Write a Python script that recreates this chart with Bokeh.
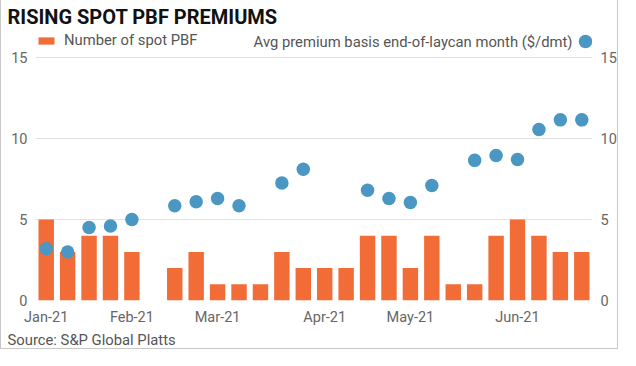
import math
from bokeh.plotting import figure
from bokeh.models import (ColumnDataSource, LinearAxis, FixedTicker, Legend, LegendItem,
                          Label, Range1d, Title)
from bokeh.embed import file_html
from bokeh.resources import INLINE

# ---- data ----
weeks = list(range(26))  # weekly slots, starting w/c 4-Jan-21
spot_count = [5, 3, 4, 4, 3, 0, 2, 3, 1, 1, 1, 3, 2, 2, 2, 4, 4, 2, 4, 1, 1, 4, 5, 4, 3, 3]
nan = float("nan")
avg_premium = [3.2, 3.0, 4.5, 4.6, 5.0, nan, 5.85, 6.1, 6.3, 5.85, nan, 7.25, 8.1, nan, nan,
               6.8, 6.3, 6.05, 7.1, nan, 8.65, 8.95, 8.7, 10.55, 11.15, 11.15]
month_ticks = [0, 4, 8, 13, 17, 22]
month_labels = ["Jan-21", "Feb-21", "Mar-21", "Apr-21", "May-21", "Jun-21"]
y_ticks = [0, 5, 10, 15]

FONT = "Roboto"
TXT = "14.8px"
TICK = "14.5px"
W, H = 618, 349
ML, MR, MT, MB = 34, 27, 28, 49
FRAME_H = H - MT - MB
Y15_PX = 29  # pixels between frame top and the 15 gridline (room for legend row)
y_end = 15 * FRAME_H / (FRAME_H - Y15_PX)

src = ColumnDataSource(dict(week=weeks, count=spot_count, prem=avg_premium))

border = "1px solid #c8c8c8"
p = figure(width=W, height=H, output_backend="svg", toolbar_location=None,
           x_range=Range1d(-0.5, 25.5), y_range=Range1d(0, y_end),
           min_border_left=ML, min_border_right=MR, min_border_top=MT, min_border_bottom=MB,
           y_axis_location=None,
           styles={"border-left": border, "border-right": border, "border-bottom": border})
p.outline_line_color = None

bars = p.vbar(x="week", top="count", width=0.72, source=src,
              fill_color="#F26C38", line_color=None)
dots = p.scatter(x="week", y="prem", source=src, size=13.5,
                 fill_color="#4A97C3", line_color=None)

# title
p.title.text = "RISING SPOT PBF PREMIUMS"
p.title.align = "left"
p.title.offset = 6 - ML
p.title.standoff = 0
p.title.text_font = FONT
p.title.text_font_style = "bold"
p.title.text_font_size = "20px"
p.title.text_color = "#111111"

# x axis
xa = p.xaxis[0]
xa.ticker = FixedTicker(ticks=month_ticks)
xa.major_label_overrides = {t: l for t, l in zip(month_ticks, month_labels)}
xa.axis_line_color = None
xa.major_tick_line_color = None
xa.major_tick_out = 0
xa.major_tick_in = 0
xa.minor_tick_line_color = None
xa.major_label_standoff = 8
xa.major_label_text_font = FONT
xa.major_label_text_font_size = TICK
xa.major_label_text_color = "#666666"

for side in ("left", "right"):
    ax = LinearAxis(ticker=FixedTicker(ticks=y_ticks))
    ax.axis_line_color = None
    ax.major_tick_line_color = None
    ax.major_tick_out = 0
    ax.major_tick_in = 0
    ax.minor_tick_line_color = None
    ax.major_label_standoff = 8
    ax.major_label_text_font = FONT
    ax.major_label_text_font_size = TICK
    ax.major_label_text_color = "#666666"
    p.add_layout(ax, side)

p.xgrid.grid_line_color = None
p.ygrid.ticker = FixedTicker(ticks=y_ticks)
p.ygrid.grid_line_color = "#e2e2e2"
p.ygrid.grid_line_width = 1

# source line
p.add_layout(Title(text="Source: S&P Global Platts", align="left", offset=6 - ML,
                   text_font=FONT, text_font_size=TXT, text_font_style="normal",
                   text_color="#555555", standoff=0), "below")

# legends (inside the top strip of the frame)
LEG_CY = FRAME_H - 13  # legend row centre, measured up from frame bottom
leg1 = Legend(items=[LegendItem(label="Number of spot PBF", renderers=[bars])],
              location=(1, LEG_CY - 8), glyph_width=20, glyph_height=9,
              label_standoff=8, padding=0, margin=0, border_line_color=None,
              background_fill_alpha=0, label_text_font=FONT, label_text_font_size=TXT,
              label_text_color="#555555", label_height=9, label_text_baseline="middle")
leg2 = Legend(items=[LegendItem(label="", renderers=[dots])],
              location=(533, LEG_CY - 17), glyph_width=34, glyph_height=34,
              label_standoff=0, label_width=0, padding=0, margin=0, border_line_color=None,
              background_fill_alpha=0, label_text_font_size="1px", label_height=0)
p.add_layout(leg1, "center")
p.add_layout(leg2, "center")

p.add_layout(Label(x=537, y=LEG_CY, x_units="screen", y_units="screen",
                   text="Avg premium basis end-of-laycan month ($/dmt)",
                   text_align="right", text_baseline="middle", text_font=FONT,
                   text_font_size=TXT, text_color="#555555"))

open("out.html", "w").write(file_html(p, INLINE))
